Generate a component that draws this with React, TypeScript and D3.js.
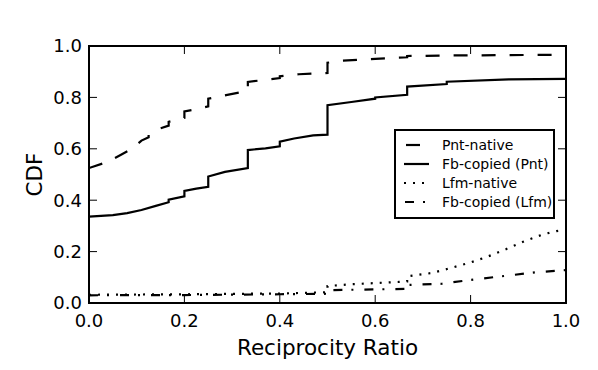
import { useEffect } from "react";
import * as d3 from "d3";

// CDF curves, [ratio, cdf]; repeated x = a step
const pntNative: [number, number][] = [
  [0, 0.525], [0.04, 0.55], [0.07, 0.58], [0.09, 0.6], [0.11, 0.632], [0.125, 0.645],
  [0.125, 0.655], [0.15, 0.68], [0.167, 0.69], [0.167, 0.705], [0.2, 0.72], [0.2, 0.745],
  [0.22, 0.752], [0.25, 0.765], [0.25, 0.795], [0.29, 0.81], [0.333, 0.825], [0.333, 0.86],
  [0.375, 0.87], [0.4, 0.875], [0.4, 0.882], [0.44, 0.89], [0.5, 0.895], [0.5, 0.935],
  [0.53, 0.943], [0.6, 0.95], [0.667, 0.956], [0.667, 0.961], [0.75, 0.963], [1, 0.966],
];

const fbCopiedPnt: [number, number][] = [
  [0, 0.336], [0.05, 0.342], [0.08, 0.35], [0.11, 0.362], [0.14, 0.378], [0.167, 0.392],
  [0.167, 0.402], [0.2, 0.415], [0.2, 0.436], [0.225, 0.445], [0.25, 0.452], [0.25, 0.492],
  [0.285, 0.51], [0.333, 0.525], [0.333, 0.595], [0.37, 0.602], [0.4, 0.61], [0.4, 0.628],
  [0.43, 0.64], [0.47, 0.652], [0.5, 0.655], [0.5, 0.77], [0.55, 0.782], [0.6, 0.795],
  [0.6, 0.8], [0.667, 0.81], [0.667, 0.842], [0.75, 0.852], [0.75, 0.861], [0.88, 0.87],
  [1, 0.872],
];

const lfmNative: [number, number][] = [
  [0, 0.032], [0.2, 0.034], [0.4, 0.037], [0.5, 0.042], [0.5, 0.066], [0.55, 0.073],
  [0.65, 0.082], [0.667, 0.084], [0.667, 0.104], [0.72, 0.117], [0.76, 0.137], [0.8, 0.158],
  [0.835, 0.18], [0.87, 0.206], [0.91, 0.238], [0.95, 0.266], [0.98, 0.28], [1, 0.285],
];

const fbCopiedLfm: [number, number][] = [
  [0, 0.03], [0.2, 0.031], [0.4, 0.034], [0.5, 0.036], [0.5, 0.05], [0.6, 0.053],
  [0.667, 0.055], [0.667, 0.07], [0.74, 0.075], [0.8, 0.09], [0.87, 0.105], [0.94, 0.12],
  [1, 0.128],
];

const xTicks = [0, 0.2, 0.4, 0.6, 0.8, 1.0];
const yTicks = [0, 0.2, 0.4, 0.6, 0.8, 1.0];

const seriesNames = ["Pnt-native", "Fb-copied (Pnt)", "Lfm-native", "Fb-copied (Lfm)"];
const seriesData = [pntNative, fbCopiedPnt, lfmNative, fbCopiedLfm];
const seriesDash = ["14,14", null, "2,7", "9,9,2,11"];

const width = 598;
const height = 370;
const margin = { top: 46, right: 32, bottom: 67, left: 89 };
const font = "DejaVu Sans, sans-serif";

export default function App() {
  useEffect(() => {
    document.body.style.margin = "0";
  }, []);

  const x = d3.scaleLinear().domain([0, 1]).range([margin.left, width - margin.right]);
  const y = d3.scaleLinear().domain([0, 1]).range([height - margin.bottom, margin.top]);

  const line = d3
    .line<[number, number]>()
    .x((d) => x(d[0]))
    .y((d) => y(d[1]));

  const x0 = x(0), x1 = x(1), y0 = y(0), y1 = y(1);
  const tickLen = 8;

  const legX = 395, legY = 130, legW = 159, legRow = 19;

  return (
    <svg width={width} height={height} style={{ display: "block", background: "#fff" }}>
      <defs>
        <clipPath id="plot">
          <rect x={x0} y={y1} width={x1 - x0} height={y0 - y1} />
        </clipPath>
      </defs>

      <g clipPath="url(#plot)">
        {seriesData.map((s, i) => (
          <path
            key={seriesNames[i]}
            d={line(s) ?? ""}
            fill="none"
            stroke="#000"
            strokeWidth={2.2}
            strokeDasharray={seriesDash[i] ?? undefined}
          />
        ))}
      </g>

      {/* ticks, inward on all four sides */}
      {xTicks.map((t) => (
        <g key={"x" + t}>
          <line x1={x(t)} x2={x(t)} y1={y0} y2={y0 - tickLen} stroke="#000" strokeWidth={1} />
          <line x1={x(t)} x2={x(t)} y1={y1} y2={y1 + tickLen} stroke="#000" strokeWidth={1} />
          <text x={x(t)} y={y0 + 24} textAnchor="middle" fontFamily={font} fontSize={18}>
            {t.toFixed(1)}
          </text>
        </g>
      ))}
      {yTicks.map((t) => (
        <g key={"y" + t}>
          <line x1={x0} x2={x0 + tickLen} y1={y(t)} y2={y(t)} stroke="#000" strokeWidth={1} />
          <line x1={x1} x2={x1 - tickLen} y1={y(t)} y2={y(t)} stroke="#000" strokeWidth={1} />
          <text
            x={x0 - 7}
            y={y(t)}
            dy="0.36em"
            textAnchor="end"
            fontFamily={font}
            fontSize={18}
          >
            {t.toFixed(1)}
          </text>
        </g>
      ))}

      <rect x={x0} y={y1} width={x1 - x0} height={y0 - y1} fill="none" stroke="#000" strokeWidth={2} />

      <text x={(x0 + x1) / 2} y={355} textAnchor="middle" fontFamily={font} fontSize={21.5}>
        Reciprocity Ratio
      </text>
      <text
        transform={`translate(42,${(y0 + y1) / 2}) rotate(-90)`}
        textAnchor="middle"
        fontFamily={font}
        fontSize={21.5}
      >
        CDF
      </text>

      {/* legend */}
      <rect x={legX} y={legY} width={legW} height={88} fill="#fff" stroke="#000" strokeWidth={2} />
      {seriesNames.map((name, i) => {
        const cy = legY + 15 + i * legRow;
        return (
          <g key={name}>
            <line
              x1={legX + 9}
              x2={legX + 34}
              y1={cy}
              y2={cy}
              stroke="#000"
              strokeWidth={2.2}
              strokeDasharray={seriesDash[i] ?? undefined}
              strokeDashoffset={i === 0 ? -2 : i === 3 ? -1 : 0}
            />
            <text x={legX + 47} y={cy} dy="0.36em" fontFamily={font} fontSize={14}>
              {name}
            </text>
          </g>
        );
      })}
    </svg>
  );
}
